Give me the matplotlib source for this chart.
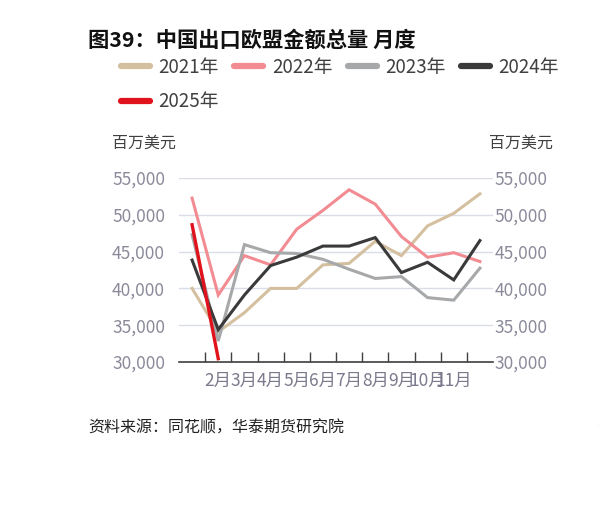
import matplotlib
matplotlib.use("Agg")
import matplotlib.pyplot as plt
from matplotlib.ticker import FuncFormatter, FixedLocator

plt.rcParams['font.family'] = ['Noto Sans CJK SC', 'DejaVu Sans']

months = ["1月", "2月", "3月", "4月", "5月", "6月", "7月", "8月", "9月", "10月", "11月", "12月"]
shown_labels = ["", "2月", "3月", "4月", "5月", "6月", "7月", "8月", "9月", "10月", "11月", ""]

y2021 = [40000, 34100, 36700, 40000, 40000, 43200, 43400, 46400, 44450, 48500, 50200, 52850]
y2022 = [52270, 39100, 44450, 43200, 48050, 50600, 53400, 51450, 47050, 44230, 44850, 43650]
y2023 = [47300, 32850, 45950, 44850, 44750, 43950, 42600, 41350, 41600, 38750, 38400, 42750]
y2024 = [43850, 34400, 39100, 43100, 44250, 45750, 45750, 46900, 42150, 43550, 41150, 46500]
y2025 = [48650, 30450]

series = [
    ("2021年", y2021, "#D4C09F", 2.2),
    ("2022年", y2022, "#F28C92", 2.2),
    ("2023年", y2023, "#A7A8AA", 2.2),
    ("2024年", y2024, "#3A3A3A", 2.2),
    ("2025年", y2025, "#E0121C", 2.4),
]

W, H = 599, 509
fig = plt.figure(figsize=(W / 100, H / 100), dpi=100)
ax = fig.add_axes([179 / W, 1 - 362 / H, (493 - 179) / W, (362 - 178) / H])

lines = {}
for name, vals, color, lw in series:
    ln, = ax.plot(range(len(vals)), vals, color=color, lw=lw, solid_joinstyle='miter',
                  label=name, zorder=3, clip_on=False)
    lines[name] = ln

ax.set_xlim(-0.5, 11.5)
ax.set_ylim(30000, 55000)
ax.set_yticks(range(30000, 55001, 5000))
fmt = FuncFormatter(lambda v, p: f"{int(v):,}")
ax.yaxis.set_major_formatter(fmt)
ax.grid(axis='y', color='#DADDE7', lw=1.0, zorder=0)
ax.set_axisbelow(True)

ax.set_xticks(range(12))
ax.set_xticklabels(shown_labels)
ax.xaxis.set_minor_locator(FixedLocator([i + 0.5 for i in range(11)]))
ax.tick_params(axis='x', which='major', length=0, pad=7, labelsize=12.5, labelcolor='#7A7A8C')
ax.tick_params(axis='x', which='minor', length=7, direction='in', width=1.0, color='#404040')
ax.tick_params(axis='y', length=0, pad=10, labelsize=12.5, labelcolor='#8A8A9A')

for s in ['top', 'left', 'right']:
    ax.spines[s].set_visible(False)
ax.spines['bottom'].set_color('#404040')
ax.spines['bottom'].set_linewidth(1.2)

ax2 = ax.twinx()
ax2.set_ylim(30000, 55000)
ax2.set_yticks(range(30000, 55001, 5000))
ax2.yaxis.set_major_formatter(fmt)
ax2.tick_params(axis='y', length=0, pad=1, labelsize=12.5, labelcolor='#8A8A9A')
for s in ['top', 'left', 'right', 'bottom']:
    ax2.spines[s].set_visible(False)

# legend: order so that column-major fill gives row1: 2021..2024, row2: 2025
order = ["2021年", "2025年", "2022年", "2023年", "2024年"]
leg = fig.legend([lines[n] for n in order], order, loc='upper left',
                 bbox_to_anchor=(121 / W, 1 - 57 / H), ncol=4, frameon=False,
                 borderpad=0, borderaxespad=0, fontsize=13.5, handlelength=1.55,
                 handletextpad=0.45, columnspacing=0.82, labelspacing=0.72,
                 labelcolor='#404040')
for l in leg.get_lines():
    l.set_linewidth(4.5)
    l.set_solid_capstyle('round')

fig.text(88 / W, 1 - 40 / H, "图39：中国出口欧盟金额总量 月度", fontsize=15.3,
         fontweight='bold', va='center', ha='left', color='#111111')
fig.text(597 / W, 1 - 40 / H, "图40", fontsize=15.3, fontweight='bold',
         va='center', ha='left', color='#111111')
fig.text(112 / W, 1 - 143 / H, "百万美元", fontsize=11.5, va='center', ha='left', color='#404040')
fig.text(489 / W, 1 - 143 / H, "百万美元", fontsize=11.5, va='center', ha='left', color='#404040')
fig.text(88 / W, 1 - 428 / H, "资料来源：同花顺，华泰期货研究院", fontsize=11.5,
         style='italic', va='center', ha='left', color='#222222')
fig.text(597 / W, 1 - 428 / H, "资料", fontsize=11.5, style='italic',
         va='center', ha='left', color='#222222')

fig.savefig("out.png", dpi=100, facecolor='white')
